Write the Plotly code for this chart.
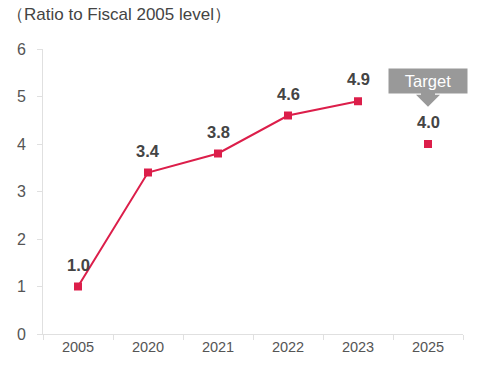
import plotly.graph_objects as go

categories = ["2005", "2020", "2021", "2022", "2023", "2025"]
actual_years = ["2005", "2020", "2021", "2022", "2023"]
actual_values = [1.0, 3.4, 3.8, 4.6, 4.9]
target_year = ["2025"]
target_values = [4.0]
y_ticks = [0, 1, 2, 3, 4, 5, 6]

RED = "#DC1E4A"
GREY = "#999999"
FONT = "Liberation Sans, Arial, sans-serif"

fig = go.Figure()
fig.add_trace(go.Scatter(
    x=actual_years, y=actual_values, mode="lines+markers",
    line=dict(color=RED, width=2),
    marker=dict(symbol="square", size=8, color=RED),
    hoverinfo="skip", showlegend=False,
))
fig.add_trace(go.Scatter(
    x=target_year, y=target_values, mode="markers",
    marker=dict(symbol="square", size=8, color=RED),
    hoverinfo="skip", showlegend=False,
))

for xv, yv in zip(actual_years + target_year, actual_values + target_values):
    fig.add_annotation(x=categories.index(xv), y=yv, text=f"<b>{yv:.1f}</b>",
                       showarrow=False, yshift=22,
                       font=dict(family=FONT, size=16.5, color="#444444"))

# Target callout
tx = categories.index(target_year[0])
callout_y = 5.33
fig.add_annotation(x=tx, y=callout_y, text="Target", showarrow=False,
                   bgcolor=GREY, width=74, height=20, borderpad=2,
                   font=dict(family=FONT, size=16.5, color="white"))
fig.add_shape(type="path", xref="x", yref="y", xsizemode="pixel", ysizemode="pixel",
              xanchor=tx, yanchor=callout_y,
              path="M -7,-10 L 7,-10 L 7,-14 L 12,-14 L 0,-26 L -12,-14 L -7,-14 Z",
              fillcolor=GREY, line=dict(width=0))

fig.add_annotation(xref="paper", yref="paper", x=-0.09, y=1.08, xanchor="left",
                   yanchor="bottom", text="（Ratio to Fiscal 2005 level）",
                   showarrow=False, font=dict(family=FONT, size=17, color="#444444"))

fig.update_layout(
    width=480, height=370,
    margin=dict(l=43, r=17, t=49, b=36),
    plot_bgcolor="white", paper_bgcolor="white",
    font=dict(family=FONT, size=14, color="#555555"),
    xaxis=dict(type="category", categoryorder="array", categoryarray=categories,
               range=[-0.5, 5.5], showline=True, linecolor="#E0E0E0", linewidth=1,
               ticks="outside", tickson="boundaries", ticklen=5, tickcolor="#E0E0E0",
               showgrid=False, zeroline=False, fixedrange=True,
               tickfont=dict(size=14.5, color="#555555")),
    yaxis=dict(range=[0, 6], tickvals=y_ticks, showline=True, linecolor="#E0E0E0",
               linewidth=1, ticks="outside", ticklen=5, tickcolor="#E0E0E0",
               showgrid=False, zeroline=False, fixedrange=True, ticklabelstandoff=8,
               tickfont=dict(size=16, color="#555555")),
)

fig.write_html("out.html", config={"displayModeBar": False},
               post_script="document.body.style.margin='0';document.body.style.padding='0';")
